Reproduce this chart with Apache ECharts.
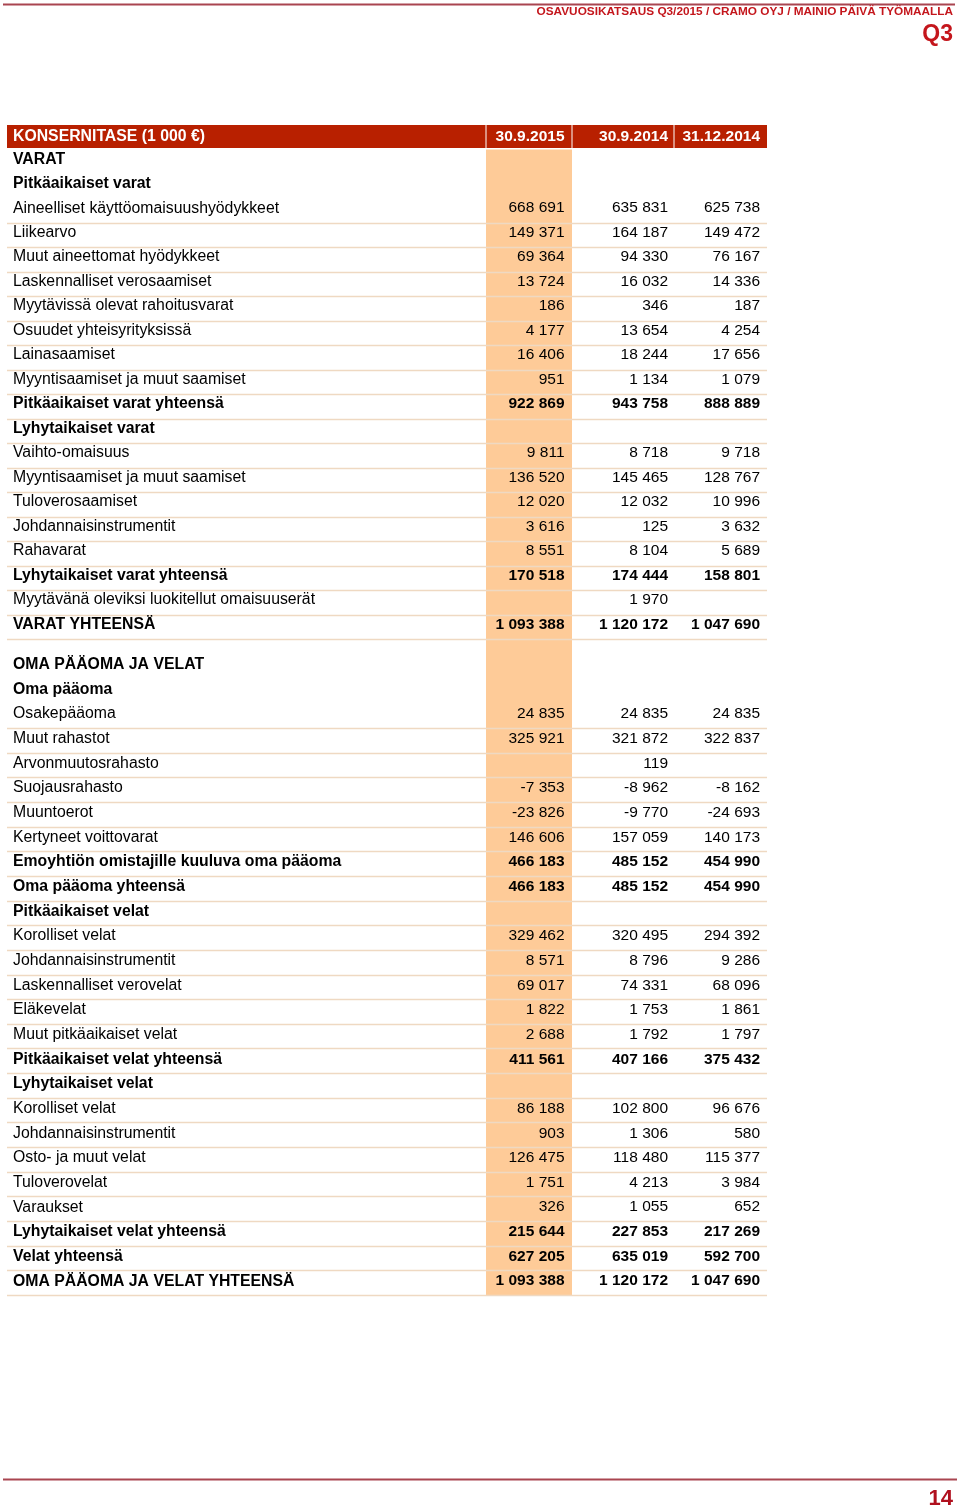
<!DOCTYPE html>
<html><head><meta charset="utf-8">
<script src="https://cdn.jsdelivr.net/npm/echarts@6.0.0/dist/echarts.min.js"></script>
<style>html,body{margin:0;padding:0;background:#fff}#c{width:960px;height:1511px}</style>
</head><body><div id="c"></div><script>
// ---------------- DATA ----------------
const tableTitle = 'KONSERNITASE (1 000 €)';
const columnHeaders = ['30.9.2015', '30.9.2014', '31.12.2014'];

const assetLabels = [
  'VARAT', 'Pitkäaikaiset varat', 'Aineelliset käyttöomaisuushyödykkeet', 'Liikearvo',
  'Muut aineettomat hyödykkeet', 'Laskennalliset verosaamiset', 'Myytävissä olevat rahoitusvarat',
  'Osuudet yhteisyrityksissä', 'Lainasaamiset', 'Myyntisaamiset ja muut saamiset',
  'Pitkäaikaiset varat yhteensä', 'Lyhytaikaiset varat', 'Vaihto-omaisuus',
  'Myyntisaamiset ja muut saamiset', 'Tuloverosaamiset', 'Johdannaisinstrumentit', 'Rahavarat',
  'Lyhytaikaiset varat yhteensä', 'Myytävänä oleviksi luokitellut omaisuuserät', 'VARAT YHTEENSÄ'
];
const assets_30_9_2015 = [null, null, 668691, 149371, 69364, 13724, 186, 4177, 16406, 951, 922869, null, 9811, 136520, 12020, 3616, 8551, 170518, null, 1093388];
const assets_30_9_2014 = [null, null, 635831, 164187, 94330, 16032, 346, 13654, 18244, 1134, 943758, null, 8718, 145465, 12032, 125, 8104, 174444, 1970, 1120172];
const assets_31_12_2014 = [null, null, 625738, 149472, 76167, 14336, 187, 4254, 17656, 1079, 888889, null, 9718, 128767, 10996, 3632, 5689, 158801, null, 1047690];

const equityLabels = [
  'OMA PÄÄOMA JA VELAT', 'Oma pääoma', 'Osakepääoma', 'Muut rahastot', 'Arvonmuutosrahasto',
  'Suojausrahasto', 'Muuntoerot', 'Kertyneet voittovarat', 'Emoyhtiön omistajille kuuluva oma pääoma',
  'Oma pääoma yhteensä', 'Pitkäaikaiset velat', 'Korolliset velat', 'Johdannaisinstrumentit',
  'Laskennalliset verovelat', 'Eläkevelat', 'Muut pitkäaikaiset velat', 'Pitkäaikaiset velat yhteensä',
  'Lyhytaikaiset velat', 'Korolliset velat', 'Johdannaisinstrumentit', 'Osto- ja muut velat',
  'Tuloverovelat', 'Varaukset', 'Lyhytaikaiset velat yhteensä', 'Velat yhteensä',
  'OMA PÄÄOMA JA VELAT YHTEENSÄ'
];
const equity_30_9_2015 = [null, null, 24835, 325921, null, -7353, -23826, 146606, 466183, 466183, null, 329462, 8571, 69017, 1822, 2688, 411561, null, 86188, 903, 126475, 1751, 326, 215644, 627205, 1093388];
const equity_30_9_2014 = [null, null, 24835, 321872, 119, -8962, -9770, 157059, 485152, 485152, null, 320495, 8796, 74331, 1753, 1792, 407166, null, 102800, 1306, 118480, 4213, 1055, 227853, 635019, 1120172];
const equity_31_12_2014 = [null, null, 24835, 322837, null, -8162, -24693, 140173, 454990, 454990, null, 294392, 9286, 68096, 1861, 1797, 375432, null, 96676, 580, 115377, 3984, 652, 217269, 592700, 1047690];

// ---------------- STYLE / LAYOUT ----------------
const assetBold = [0, 1, 10, 11, 17, 19];
const equityBold = [0, 1, 8, 9, 10, 16, 17, 23, 24, 25];
const assetLineFrom = 2;
const equityLineFrom = 2;

const FONT = '"Liberation Sans", Arial, Helvetica, sans-serif';
const FS = 15.5;
const FS_LABEL = 15.8;
const RED = '#B82000';
const PEACH = '#FECB98';
const SEP = '#EFD9C2';
const TABLE_L = 7, TABLE_R = 767;
const DIVIDERS = [486, 572, 674];
const PEACH_L = 486, PEACH_R = 572;
const VALUE_R = [564.5, 668, 760];
const G1 = { top: 125, height: 514 };
const G2 = { top: 654, height: 641 };
const SHIFT1 = 2.5, SHIFT2 = 1.5;

function fmt(v) {
  const neg = v < 0;
  const s = String(Math.abs(v)).replace(/\B(?=(\d{3})+(?!\d))/g, ' ');
  return (neg ? '-' : '') + s;
}

function bandH(api) { return api.size([0, 1])[1]; }

function makeValueSeries(gridIdx, cols, bold, rowOffset, shift) {
  const data = cols[0].map((_, k) => [0, k + rowOffset, k]);
  return {
    type: 'custom', xAxisIndex: gridIdx, yAxisIndex: gridIdx, z: 4, silent: true,
    data,
    renderItem: function (params, api) {
      const row = api.value(1), k = api.value(2);
      const cy = api.coord([0, row])[1] - shift;
      const isBold = bold.indexOf(k) >= 0;
      const children = [];
      cols.forEach(function (arr, c) {
        const v = arr[k];
        if (v == null) return;
        const x = api.coord([VALUE_R[c], row])[0];
        children.push({
          type: 'text', x: x, y: cy,
          style: { text: fmt(v), align: 'right', verticalAlign: 'middle',
                   font: (isBold ? 'bold ' : '') + FS + 'px ' + FONT, fill: '#000' }
        });
      });
      return { type: 'group', children: children };
    }
  };
}

function makeLineSeries(gridIdx, count, from, rowOffset) {
  const data = [];
  for (let k = from; k < count; k++) data.push([0, k + rowOffset]);
  return {
    type: 'custom', xAxisIndex: gridIdx, yAxisIndex: gridIdx, z: 3, silent: true,
    data,
    renderItem: function (params, api) {
      const row = api.value(1);
      const y = Math.round(api.coord([0, row])[1] + bandH(api) / 2) + 0.5;
      return { type: 'line', shape: { x1: api.coord([TABLE_L, row])[0], y1: y, x2: api.coord([TABLE_R, row])[0], y2: y },
               style: { stroke: SEP, lineWidth: 1.3 } };
    }
  };
}

function makePeachSeries(gridIdx, rowStart, rowEnd, extendTop) {
  return {
    type: 'custom', xAxisIndex: gridIdx, yAxisIndex: gridIdx, z: 1, silent: true,
    data: [[0, rowStart, rowEnd]],
    renderItem: function (params, api) {
      const h = bandH(api);
      const x1 = api.coord([PEACH_L, rowStart])[0], x2 = api.coord([PEACH_R, rowStart])[0];
      let y1 = api.coord([0, api.value(1)])[1] - h / 2;
      const y2 = api.coord([0, api.value(2)])[1] + h / 2;
      if (extendTop != null) y1 = extendTop;
      return { type: 'rect', shape: { x: x1, y: y1, width: x2 - x1, height: y2 - y1 }, style: { fill: PEACH } };
    }
  };
}

const headerSeries = {
  type: 'custom', xAxisIndex: 0, yAxisIndex: 0, z: 2, silent: true,
  data: [[0, 0]],
  renderItem: function (params, api) {
    const h = bandH(api);
    const cy = api.coord([0, 0])[1];
    const top = cy - h / 2;
    const hh = h - 1.5;
    const x1 = api.coord([TABLE_L, 0])[0], x2 = api.coord([TABLE_R, 0])[0];
    const children = [{ type: 'rect', shape: { x: x1, y: top, width: x2 - x1, height: hh }, style: { fill: RED } }];
    DIVIDERS.forEach(function (dx) {
      const x = api.coord([dx, 0])[0];
      children.push({ type: 'line', shape: { x1: x, y1: top, x2: x, y2: top + hh }, style: { stroke: '#fff', lineWidth: 1 } });
    });
    columnHeaders.forEach(function (t, c) {
      children.push({ type: 'text', x: api.coord([VALUE_R[c], 0])[0], y: top + hh / 2,
        style: { text: t, align: 'right', verticalAlign: 'middle', font: 'bold ' + FS + 'px ' + FONT, fill: '#fff' } });
    });
    return { type: 'group', children: children };
  }
};

function yAxisFor(gridIdx, cats, boldFn, shift) {
  return {
    type: 'category', gridIndex: gridIdx, inverse: true, data: cats, z: 10,
    axisLine: { show: false }, axisTick: { show: false }, splitLine: { show: false },
    axisLabel: {
      inside: true, margin: 13, interval: 0,
      formatter: function (v, i) { return '{' + boldFn(i) + '|' + v + '}'; },
      rich: {
        n: { fontFamily: FONT, fontSize: FS_LABEL, color: '#000', padding: [0, 0, shift * 2, 0] },
        b: { fontFamily: FONT, fontSize: FS_LABEL, color: '#000', fontWeight: 'bold', padding: [0, 0, shift * 2, 0] },
        h: { fontFamily: FONT, fontSize: FS_LABEL, color: '#fff', fontWeight: 'bold', padding: [0, 0, 2, 0] }
      }
    }
  };
}

const chart = echarts.init(document.getElementById('c'), null, { renderer: 'canvas' });
chart.setOption({
  backgroundColor: '#fff',
  animation: false,
  title: [
    { text: 'OSAVUOSIKATSAUS Q3/2015 / CRAMO OYJ / MAINIO PÄIVÄ TYÖMAALLA', right: 7, top: 6, padding: 0,
      textStyle: { fontFamily: FONT, fontSize: 11.8, fontWeight: 'bold', color: '#C4161C' } },
    { text: 'Q3', right: 7, top: 23, padding: 0,
      textStyle: { fontFamily: FONT, fontSize: 23, fontWeight: 'bold', color: '#C4161C' } },
    { text: '14', right: 7, top: 1488, padding: 0,
      textStyle: { fontFamily: FONT, fontSize: 22, fontWeight: 'bold', color: '#B0101E' } }
  ],
  graphic: [
    { type: 'line', shape: { x1: 3, y1: 4.5, x2: 955, y2: 4.5 }, style: { stroke: '#A94550', lineWidth: 2 } },
    { type: 'line', shape: { x1: 3, y1: 1479.5, x2: 957, y2: 1479.5 }, style: { stroke: '#A94550', lineWidth: 2 } }
  ],
  grid: [
    { left: 0, right: 0, top: G1.top, height: G1.height },
    { left: 0, right: 0, top: G2.top, height: G2.height }
  ],
  xAxis: [
    { type: 'value', gridIndex: 0, min: 0, max: 960, show: false },
    { type: 'value', gridIndex: 1, min: 0, max: 960, show: false }
  ],
  yAxis: [
    yAxisFor(0, [tableTitle].concat(assetLabels), function (i) { return i === 0 ? 'h' : (assetBold.indexOf(i - 1) >= 0 ? 'b' : 'n'); }, SHIFT1),
    yAxisFor(1, equityLabels, function (i) { return equityBold.indexOf(i) >= 0 ? 'b' : 'n'; }, SHIFT2)
  ],
  series: [
    headerSeries,
    makePeachSeries(0, 1, assetLabels.length, null),
    makePeachSeries(1, 0, equityLabels.length - 1, G1.top + G1.height),
    makeLineSeries(0, assetLabels.length, assetLineFrom, 1),
    makeLineSeries(1, equityLabels.length, equityLineFrom, 0),
    makeValueSeries(0, [assets_30_9_2015, assets_30_9_2014, assets_31_12_2014], assetBold, 1, SHIFT1),
    makeValueSeries(1, [equity_30_9_2015, equity_30_9_2014, equity_31_12_2014], equityBold, 0, SHIFT2)
  ]
});
</script></body></html>
